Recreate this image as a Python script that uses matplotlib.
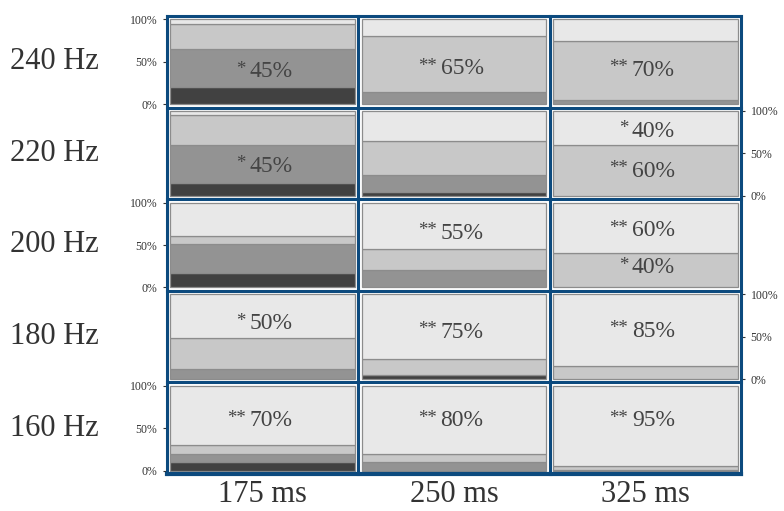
import matplotlib
matplotlib.use("Agg")
import matplotlib.pyplot as plt
from matplotlib.lines import Line2D

# rows top -> bottom, columns left -> right
freqs = ['240 Hz', '220 Hz', '200 Hz', '180 Hz', '160 Hz']
durations = ['175 ms', '250 ms', '325 ms']

# stacked shares (bottom -> top): dark, medium, light, lightest
dark = [[20, 0, 0],
        [15, 5, 0],
        [17, 0, 0],
        [0, 5, 0],
        [10, 0, 0]]
medium = [[45, 15, 5],
          [45, 20, 0],
          [34, 20, 0],
          [12, 0, 0],
          [10, 10, 1]]
light = [[30, 65, 70],
         [35, 40, 60],
         [10, 25, 40],
         [36, 19, 15],
         [10, 10, 4]]
lightest = [[5, 20, 25],
            [5, 35, 40],
            [39, 55, 60],
            [52, 76, 85],
            [70, 80, 95]]

# annotations per cell: (stars, value, height in cell as fraction)
labels = [[[('*', '45%', 0.38)], [('**', '65%', 0.42)], [('**', '70%', 0.40)]],
          [[('*', '45%', 0.35)], [], [('*', '40%', 0.76), ('**', '60%', 0.29)]],
          [[], [('**', '55%', 0.64)], [('**', '60%', 0.67), ('*', '40%', 0.23)]],
          [[('*', '50%', 0.65)], [('**', '75%', 0.55)], [('**', '85%', 0.56)]],
          [[('**', '70%', 0.59)], [('**', '80%', 0.59)], [('**', '95%', 0.59)]]]

colors = ['#414141', '#939393', '#c8c8c8', '#e8e8e8']
border = '#0c4a7e'
plt.rcParams['font.family'] = ['Liberation Serif', 'DejaVu Serif']

fig = plt.figure(figsize=(7.84, 5.11), dpi=100)
W, H = 784, 511
x0, x1 = 167, 741
y0, y1 = 16, 474
cw = (x1 - x0) / 3
rh = (y1 - y0) / 5
m = 0.039

for r in range(5):
    for c in range(3):
        left = (x0 + c * cw) / W
        bottom = 1 - (y0 + (r + 1) * rh) / H
        ax = fig.add_axes([left, bottom, cw / W, rh / H])
        segs = [dark[r][c], medium[r][c], light[r][c], lightest[r][c]]
        tot = sum(segs)
        base = 0
        for v, col in zip(segs, colors):
            if v > 0:
                ax.bar(0, v / tot, bottom=base, width=0.965, color=col,
                       edgecolor='#8c8c8c', linewidth=0.9)
            base += v / tot
        for stars, val, yy in labels[r][c]:
            ax.text(-0.07, yy, val, ha='left', va='center', fontsize=17,
                    color='#444444')
            ax.text(-0.09, yy + 0.03, stars, ha='right', va='center',
                    fontsize=13.5, color='#444444')
        ax.set_xlim(-0.5, 0.5)
        ax.set_ylim(-m, 1 + m)
        ax.set_xticks([])
        for s in ax.spines.values():
            s.set_visible(False)
        if c == 0 and r % 2 == 0:
            ax.set_yticks([0, 0.5, 1])
            ax.set_yticklabels(['0%', '50%', '100%'])
            ax.tick_params(axis='y', left=True, right=False, labelsize=8.5,
                           length=3, width=0.8, colors='#333333', pad=4)
        elif c == 2 and r % 2 == 1:
            ax.set_yticks([0, 0.5, 1])
            ax.set_yticklabels(['0%', '50%', '100%'])
            ax.yaxis.tick_right()
            ax.tick_params(axis='y', labelsize=8.5, length=3, width=0.8,
                           colors='#333333', pad=4)
        else:
            ax.set_yticks([])

# grid lines and frame
for i in range(6):
    yy = 1 - (y0 + i * rh) / H
    lw = 3.0 if i == 5 else 2.2
    fig.add_artist(Line2D([x0 / W, x1 / W], [yy, yy], color=border, lw=lw,
                          solid_capstyle='projecting'))
for j in range(4):
    xx = (x0 + j * cw) / W
    fig.add_artist(Line2D([xx, xx], [1 - y0 / H, 1 - y1 / H], color=border,
                          lw=2.2, solid_capstyle='projecting'))

for r, f in enumerate(freqs):
    fig.text(10 / W, 1 - (y0 + (r + 0.5) * rh) / H, f, ha='left', va='center',
             fontsize=22, color='#333333')
for c, d in enumerate(durations):
    fig.text((x0 + (c + 0.5) * cw) / W, 1 - 494 / H, d, ha='center',
             va='center', fontsize=22, color='#333333')

fig.savefig('out.png', dpi=100)
